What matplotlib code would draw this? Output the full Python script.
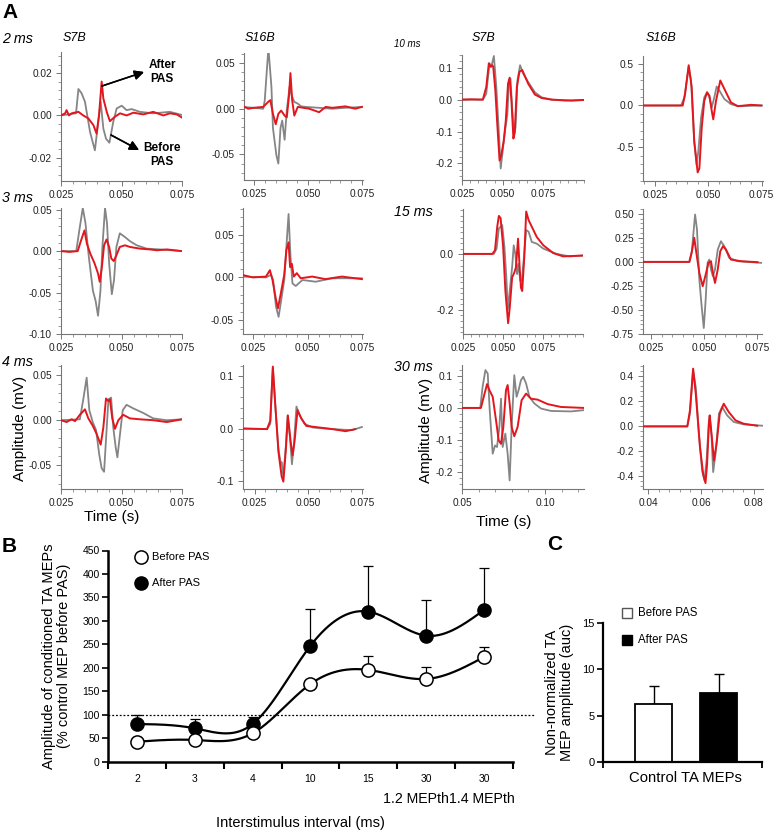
import numpy as np
import matplotlib.pyplot as plt
from matplotlib.ticker import FixedLocator, AutoMinorLocator, MultipleLocator, FormatStrFormatter

plt.rcParams['font.family'] = ['Liberation Sans', 'DejaVu Sans']
plt.rcParams['axes.unicode_minus'] = False

W, H = 782, 833
GRAY = '#858585'
RED = '#e4161d'

# ---- Panel A traces: (time in ms, amplitude in mV) ----
# 2 ms, S7B
s7b_2ms_before = [(25.0, 0.0), (31.2, 0.001), (32.2, 0.0125), (33.5, 0.0105), (34.9, 0.0065), (37.0, -0.0078),
                  (39.0, -0.0165), (40.4, -0.003), (41.4, 0.0065), (42.5, -0.0062), (43.6, -0.011), (45.0, -0.0129),
                  (46.6, -0.003), (48.0, 0.0033), (50.1, 0.0046), (52.1, 0.0025), (54.2, 0.003), (57.6, 0.0017),
                  (63.1, 0.001), (70.0, 0.0017), (75.0, 0.0002)]
s7b_2ms_after = [(25.0, 0.0), (26.7, 0.001), (27.3, 0.0025), (28.3, 0.0), (29.4, 0.001), (32.2, 0.0017), (34.2, 0.0),
                 (36.3, -0.0014), (38.4, -0.0046), (39.7, -0.0086), (40.7, 0.0), (41.8, 0.016), (42.5, 0.008),
                 (43.9, 0.0017), (45.2, -0.0027), (47.3, -0.0006), (49.4, 0.001), (52.1, 0.0), (54.9, 0.0013),
                 (59.0, 0.0005), (63.1, 0.0017), (67.3, 0.0), (70.0, 0.001), (72.8, 0.0005), (75.0, -0.001)]
# 2 ms, S16B
s16b_2ms_before = [(20.1, 0.002), (29.3, 0.0), (30.0, 0.009), (31.7, 0.0665), (33.1, 0.024), (33.8, -0.021),
                   (35.4, -0.051), (36.3, -0.060), (37.3, -0.021), (38.1, -0.013), (39.2, -0.034), (40.2, -0.002),
                   (41.5, 0.024), (42.4, 0.015), (43.7, 0.0075), (45.3, 0.0056), (46.8, 0.0026), (49.1, 0.002),
                   (55.2, 0.001), (61.3, 0.0), (67.4, 0.001), (75.0, 0.002)]
s16b_2ms_after = [(20.1, 0.0026), (22.4, 0.0), (24.7, 0.001), (29.3, 0.002), (31.6, 0.0075), (32.6, 0.0094),
                  (33.8, -0.0056), (35.1, -0.017), (36.3, -0.0056), (37.6, -0.002), (39.2, -0.0075), (40.2, -0.0094),
                  (41.2, 0.013), (41.9, 0.039), (42.7, 0.0094), (43.7, -0.0075), (45.3, 0.002), (50.6, 0.0),
                  (55.2, -0.0038), (58.2, 0.002), (61.3, 0.001), (67.4, 0.0026), (71.9, 0.0), (75.0, 0.002)]
# 10 ms, S7B
s7b_10ms_before = [(25.0, 0.0), (37.8, 0.0), (39.9, 0.018), (41.9, 0.114), (43.0, 0.103), (44.6, 0.137),
                   (46.1, 0.039), (47.5, -0.088), (48.8, -0.216), (50.2, -0.152), (51.7, -0.088), (52.9, -0.046),
                   (53.9, 0.061), (54.8, 0.066), (55.8, -0.024), (57.0, -0.110), (57.9, -0.088), (59.1, 0.061),
                   (60.7, 0.108), (62.6, 0.082), (65.7, 0.055), (69.8, 0.023), (74.0, 0.007), (80.2, 0.0),
                   (88.4, -0.003), (99.9, -0.001)]
s7b_10ms_after = [(25.0, 0.0), (30.6, 0.001), (37.8, 0.0), (39.9, 0.039), (41.5, 0.114), (42.6, 0.103),
                  (43.6, 0.108), (44.2, 0.103), (45.5, 0.029), (46.7, -0.078), (48.1, -0.191), (49.2, -0.173),
                  (50.6, -0.131), (51.9, -0.067), (53.3, 0.050), (54.3, 0.069), (55.4, -0.003), (56.6, -0.122),
                  (57.4, -0.104), (58.7, 0.039), (60.3, 0.087), (62.0, 0.093), (65.7, 0.050), (69.8, 0.016),
                  (74.0, 0.005), (80.2, 0.0), (92.6, -0.003), (99.9, -0.001)]
# 10 ms, S16B
s16b_10ms_before = [(19.5, 0.0), (37.2, 0.0), (38.8, 0.097), (40.8, 0.460), (41.9, 0.298), (43.4, -0.427),
                    (44.5, -0.710), (45.3, -0.548), (46.6, -0.145), (48.1, 0.097), (49.4, 0.157), (50.5, 0.097),
                    (51.6, -0.024), (52.8, 0.097), (53.9, 0.226), (55.2, 0.177), (57.5, 0.077), (60.6, 0.016),
                    (63.8, -0.008), (75.5, 0.0)]
s16b_10ms_after = [(19.5, 0.0), (38.0, 0.0), (39.1, 0.137), (40.8, 0.480), (42.2, 0.218), (43.4, -0.427),
                   (45.0, -0.798), (45.8, -0.750), (46.9, -0.266), (48.1, 0.056), (49.4, 0.157), (50.5, 0.117),
                   (51.6, -0.065), (52.3, -0.165), (53.6, 0.056), (55.6, 0.298), (57.5, 0.198), (60.6, 0.036),
                   (63.8, -0.008), (70.0, 0.008), (74.7, 0.0)]
# 3 ms, S7B
s7b_3ms_before = [(25.0, 0.0), (31.3, 0.0), (32.6, 0.0256), (34.0, 0.052), (35.1, 0.034), (36.5, -0.007),
                  (38.2, -0.048), (39.3, -0.060), (40.3, -0.078), (41.3, -0.048), (42.1, 0.005), (43.2, 0.052),
                  (44.0, 0.034), (44.9, -0.015), (46.0, -0.052), (46.9, -0.035), (47.9, 0.005), (49.3, 0.0215),
                  (51.4, 0.017), (53.5, 0.012), (56.3, 0.007), (60.4, 0.003), (66.0, 0.002), (75.0, 0.0)]
s7b_3ms_after = [(25.0, 0.0), (28.5, -0.001), (31.9, 0.0), (33.3, 0.013), (34.7, 0.025), (35.7, 0.009),
                 (37.1, -0.003), (38.9, -0.015), (40.3, -0.027), (41.0, -0.037), (41.9, -0.019), (42.8, 0.007),
                 (43.8, 0.014), (44.9, 0.005), (45.8, -0.009), (46.8, -0.012), (47.9, -0.005), (49.3, 0.005),
                 (51.4, 0.007), (53.5, 0.005), (57.6, 0.003), (61.8, 0.002), (64.6, 0.001), (68.8, 0.002),
                 (75.0, 0.0)]
# 3 ms, S16B
s16b_3ms_before = [(19.8, 0.001), (30.8, 0.0), (33.1, 0.003), (34.1, -0.003), (35.4, -0.034), (36.6, -0.046),
                   (37.6, -0.030), (39.2, -0.003), (40.2, 0.036), (41.2, 0.074), (42.1, 0.024), (43.0, -0.007),
                   (44.5, -0.010), (47.6, -0.003), (53.7, -0.005), (61.3, -0.001), (75.0, -0.001)]
s16b_3ms_after = [(19.8, 0.003), (24.7, 0.0), (30.8, 0.001), (32.6, 0.0085), (33.8, -0.003), (35.4, -0.026),
                  (36.3, -0.036), (37.6, -0.019), (39.2, 0.003), (40.2, 0.032), (41.2, 0.041), (41.9, 0.012),
                  (42.7, 0.016), (43.6, 0.001), (45.0, 0.005), (46.8, -0.001), (52.1, 0.001), (58.2, -0.002),
                  (65.8, 0.001), (75.0, -0.002)]
# 15 ms, S7B
s7b_15ms_before = [(25.0, 0.002), (44.3, 0.002), (46.0, 0.021), (47.4, 0.094), (48.5, 0.100), (49.5, 0.106),
                   (50.9, 0.027), (52.2, -0.095), (53.0, -0.199), (54.2, -0.132), (55.7, -0.046), (56.7, 0.033),
                   (57.7, 0.002), (58.8, -0.071), (59.6, -0.034), (60.8, -0.095), (61.8, -0.095), (62.9, -0.022),
                   (64.5, 0.088), (66.0, 0.082), (68.0, 0.045), (71.1, 0.039), (75.2, 0.021), (83.4, 0.002),
                   (91.7, -0.007), (99.5, -0.004)]
s7b_15ms_after = [(25.0, 0.002), (43.3, 0.002), (45.0, 0.015), (46.4, 0.100), (47.4, 0.139), (48.5, 0.131),
                  (50.1, 0.027), (51.5, -0.132), (53.2, -0.248), (54.2, -0.193), (55.7, -0.083), (57.1, -0.065),
                  (58.1, -0.046), (59.4, 0.057), (60.4, -0.046), (61.2, -0.120), (62.0, -0.132), (63.3, -0.010),
                  (64.5, 0.155), (66.0, 0.124), (68.0, 0.100), (71.1, 0.063), (75.2, 0.033), (81.4, 0.005),
                  (87.6, -0.007), (99.5, -0.004)]
# 15 ms, S16B
s16b_15ms_before = [(21.4, 0.0), (43.1, 0.0), (44.2, 0.094), (45.8, 0.493), (46.7, 0.337), (47.8, -0.184),
                    (48.9, -0.462), (49.9, -0.688), (50.8, -0.392), (51.7, -0.010), (52.5, 0.024), (53.3, -0.080),
                    (54.2, -0.149), (55.2, -0.080), (56.5, 0.128), (58.0, 0.215), (59.6, 0.163), (61.9, 0.042),
                    (65.9, 0.007), (77.0, -0.010)]
s16b_15ms_after = [(21.4, 0.0), (43.1, 0.0), (44.3, 0.111), (45.4, 0.250), (46.4, 0.094), (47.8, -0.115),
                   (49.4, -0.253), (51.0, -0.115), (52.1, -0.010), (53.3, 0.007), (54.2, -0.115), (55.2, -0.219),
                   (56.5, -0.080), (57.7, 0.111), (59.0, 0.163), (60.4, 0.128), (62.7, 0.024), (67.5, 0.007),
                   (75.3, -0.003)]
# 4 ms, S7B
s7b_4ms_before = [(25.0, 0.0), (32.8, 0.001), (34.2, 0.023), (35.6, 0.047), (36.7, 0.011), (38.1, -0.002),
                  (39.5, -0.011), (40.8, -0.038), (41.8, -0.053), (42.8, -0.057), (43.9, -0.008), (44.6, 0.023),
                  (45.7, 0.025), (46.6, -0.008), (47.6, -0.030), (48.3, -0.041), (49.4, -0.015), (50.5, 0.011),
                  (52.1, 0.017), (54.9, 0.013), (59.0, 0.008), (63.1, 0.002), (68.7, 0.0), (75.0, 0.001)]
s7b_4ms_after = [(25.0, 0.0), (27.3, -0.002), (29.4, 0.001), (30.8, -0.001), (32.8, 0.006), (34.9, 0.012),
                 (36.3, 0.002), (38.1, -0.006), (39.7, -0.015), (41.4, -0.027), (42.5, -0.008), (43.6, 0.024),
                 (44.6, 0.021), (45.2, 0.023), (46.2, 0.002), (47.3, -0.0095), (48.7, 0.0), (50.7, 0.006),
                 (53.5, 0.002), (57.6, 0.001), (63.1, 0.0), (68.7, -0.002), (75.0, 0.001)]
# 4 ms, S16B
s16b_4ms_before = [(19.8, 0.0), (30.8, -0.001), (32.3, 0.009), (33.5, 0.115), (34.8, 0.035), (36.1, -0.038),
                   (37.2, -0.068), (37.6, -0.064), (38.4, -0.091), (39.6, -0.031), (40.4, 0.025), (41.5, -0.018),
                   (42.4, -0.068), (43.3, -0.031), (44.5, 0.042), (46.0, 0.025), (48.3, 0.009), (52.1, 0.002),
                   (61.3, -0.001), (70.4, -0.003), (75.0, 0.003)]
s16b_4ms_after = [(19.8, 0.0), (30.8, -0.001), (32.3, 0.015), (33.5, 0.118), (34.8, 0.035), (36.1, -0.044),
                  (37.6, -0.091), (38.4, -0.101), (39.6, -0.038), (40.5, 0.025), (41.8, -0.025), (42.7, -0.051),
                  (43.6, -0.025), (45.0, 0.035), (46.8, 0.019), (49.1, 0.005), (55.2, 0.002), (61.3, -0.001),
                  (67.4, -0.005), (71.9, -0.001)]
# 30 ms, S7B
s7b_30ms_before = [(50.0, 0.0), (61.0, 0.0), (62.4, 0.066), (64.1, 0.119), (65.5, 0.108), (66.7, -0.007),
                   (68.5, -0.144), (69.9, -0.118), (71.1, -0.123), (72.5, -0.060), (73.5, 0.029), (74.5, -0.123),
                   (76.1, -0.081), (77.5, -0.144), (78.7, -0.228), (79.9, -0.060), (81.5, 0.103), (82.9, 0.035),
                   (84.1, 0.056), (85.5, 0.087), (86.9, 0.098), (88.6, 0.077), (90.6, 0.035), (93.6, 0.014),
                   (97.6, -0.002), (103.6, -0.0095), (115.7, -0.011), (123.3, -0.007)]
s7b_30ms_after = [(50.0, 0.0), (61.4, 0.0), (63.1, 0.035), (65.1, 0.075), (66.5, 0.056), (68.5, 0.035),
                  (70.5, -0.039), (72.1, -0.102), (73.5, -0.113), (74.9, -0.060), (76.5, 0.056), (77.5, 0.072),
                  (78.7, 0.014), (79.9, -0.060), (81.5, -0.089), (83.5, -0.060), (85.9, 0.024), (88.6, 0.045),
                  (91.6, 0.029), (95.6, 0.026), (101.6, 0.012), (109.6, 0.003), (123.3, 0.0)]
# 30 ms, S16B
s16b_30ms_before = [(38.0, 0.0), (54.8, 0.0), (55.8, 0.101), (57.0, 0.448), (58.0, 0.315), (59.2, -0.059),
                    (60.4, -0.352), (61.3, -0.432), (62.1, -0.272), (63.0, 0.048), (63.3, 0.080), (64.0, -0.085),
                    (64.6, -0.365), (65.5, -0.219), (66.8, 0.101), (68.0, 0.155), (69.9, 0.088), (72.4, 0.035),
                    (76.2, 0.016), (83.4, 0.005)]
s16b_30ms_after = [(38.0, 0.0), (54.8, 0.0), (55.8, 0.128), (57.0, 0.461), (58.0, 0.261), (59.6, -0.165),
                   (60.8, -0.379), (61.7, -0.453), (62.3, -0.299), (63.0, 0.021), (63.3, 0.088), (64.1, -0.085),
                   (64.9, -0.272), (65.9, -0.139), (67.1, 0.101), (68.6, 0.181), (70.5, 0.115), (73.1, 0.048),
                   (76.2, 0.021), (81.3, 0.005)]

# ---- Panel B ----
isi_labels = ['2', '3', '4', '10', '15', '30', '30']
before_pas = [42.6, 46.3, 60.5, 165.6, 195.5, 176.3, 223.2]
before_se = [3, 3, 5, 8, 30, 26, 22]
after_pas = [80.3, 71.1, 80.3, 247.2, 319.7, 268.5, 323.3]
after_se = [19, 19, 16, 78, 97, 76, 90]

# ---- Panel C ----
control_means = [6.3, 7.45]
control_se = [1.9, 2.05]


def rect(l, r, t, b):
    return [l / W, 1 - b / H, (r - l) / W, (b - t) / H]


def fx(x):
    return x / W


def fy(y):
    return 1 - y / H


def spline(x, y, xs):
    # natural cubic spline, for the smooth line through the means
    x = np.asarray(x, float)
    y = np.asarray(y, float)
    n = len(x)
    h = np.diff(x)
    A = np.zeros((n, n))
    rhs = np.zeros(n)
    A[0, 0] = A[-1, -1] = 1
    for i in range(1, n - 1):
        A[i, i - 1] = h[i - 1]
        A[i, i] = 2 * (h[i - 1] + h[i])
        A[i, i + 1] = h[i]
        rhs[i] = 3 * ((y[i + 1] - y[i]) / h[i] - (y[i] - y[i - 1]) / h[i - 1])
    c = np.linalg.solve(A, rhs)
    b = (y[1:] - y[:-1]) / h - h * (2 * c[:-1] + c[1:]) / 3
    d = (c[1:] - c[:-1]) / (3 * h)
    idx = np.clip(np.searchsorted(x, xs) - 1, 0, n - 2)
    dx = xs - x[idx]
    return y[idx] + b[idx] * dx + c[idx] * dx ** 2 + d[idx] * dx ** 3


fig = plt.figure(figsize=(W / 100, H / 100), dpi=100)

x3 = [0.025, 0.05, 0.075]
panels = [
    # rect px, xlim (ms), ylim, x ticks, x fmt, y step, y fmt, before, after
    ((61, 182, 52, 181), (25, 75), (-0.031, 0.030), x3, '%.3f', 0.02, '%.2f', s7b_2ms_before, s7b_2ms_after),
    ((244, 363, 53, 180), (20.4, 75.5), (-0.078, 0.061), x3, '%.3f', 0.05, '%.2f', s16b_2ms_before, s16b_2ms_after),
    ((462, 584, 55, 180), (25, 100), (-0.252, 0.14), x3, '%.3f', 0.1, '%.1f', s7b_10ms_before, s7b_10ms_after),
    ((643, 763, 56, 181), (19.4, 75.6), (-0.90, 0.59), x3, '%.3f', 0.5, '%.1f', s16b_10ms_before, s16b_10ms_after),
    ((61, 182, 208, 334), (25, 75), (-0.10, 0.052), x3, '%.3f', 0.05, '%.2f', s7b_3ms_before, s7b_3ms_after),
    ((243, 363, 208, 334), (20.2, 75.5), (-0.066, 0.081), x3, '%.3f', 0.05, '%.2f', s16b_3ms_before, s16b_3ms_after),
    ((463, 583, 209, 334), (25, 100), (-0.287, 0.164), x3, '%.3f', 0.2, '%.1f', s7b_15ms_before, s7b_15ms_after),
    ((643, 762, 209, 334), (21.2, 77.4), (-0.75, 0.55), x3, '%.3f', 0.25, '%.2f', s16b_15ms_before, s16b_15ms_after),
    ((61, 182, 365, 489), (25, 75), (-0.076, 0.061), x3, '%.3f', 0.05, '%.2f', s7b_4ms_before, s7b_4ms_after),
    ((243, 363, 365, 489), (19.6, 75.5), (-0.115, 0.121), x3, '%.3f', 0.1, '%.1f', s16b_4ms_before, s16b_4ms_after),
    ((462, 584, 365, 489), (50, 123.5), (-0.255, 0.135), [0.05, 0.10], '%.2f', 0.1, '%.1f', s7b_30ms_before, s7b_30ms_after),
    ((643, 763, 365, 489), (38, 83.5), (-0.50, 0.49), [0.04, 0.06, 0.08], '%.2f', 0.2, '%.1f', s16b_30ms_before, s16b_30ms_after),
]

trace_axes = []
for i, (r, xl, yl, xt, xf, ys, yf, bef, aft) in enumerate(panels):
    ax = fig.add_axes(rect(*r))
    tb, vb = zip(*bef)
    ta, va = zip(*aft)
    ax.plot(np.array(tb) / 1000, vb, color=GRAY, lw=1.3, zorder=2)
    ax.plot(np.array(ta) / 1000, va, color=RED, lw=1.4, zorder=3)
    ax.set_xlim(xl[0] / 1000, xl[1] / 1000)
    ax.set_ylim(*yl)
    ax.xaxis.set_major_locator(FixedLocator(xt))
    ax.xaxis.set_major_formatter(FormatStrFormatter(xf))
    ax.xaxis.set_minor_locator(AutoMinorLocator(5))
    ax.yaxis.set_major_locator(MultipleLocator(ys))
    ax.yaxis.set_major_formatter(FormatStrFormatter(yf))
    ax.yaxis.set_minor_locator(AutoMinorLocator(10 if ys == 0.2 and i == 6 else 5))
    for s in ['top', 'right']:
        ax.spines[s].set_visible(False)
    for s in ['left', 'bottom']:
        ax.spines[s].set_color('#777777')
        ax.spines[s].set_linewidth(0.8)
    ax.tick_params(which='major', length=3.5, width=0.7, color='#777777', labelsize=7.3,
                   labelcolor='#222222', pad=3)
    ax.tick_params(which='minor', length=2, width=0.6, color='#888888')
    ax.patch.set_alpha(0)
    trace_axes.append(ax)

# A labels
fig.text(fx(2), fy(13), 'A', fontsize=15, fontweight='bold', va='center', ha='left')
for txt, x, y in [('2 ms', 2, 39), ('3 ms', 2, 198), ('4 ms', 2, 362), ('15 ms', 394, 212), ('30 ms', 394, 367)]:
    fig.text(fx(x), fy(y), txt, fontsize=10.3, style='italic', va='center', ha='left')
fig.text(fx(394), fy(44), '10 ms', fontsize=7, style='italic', va='center', ha='left')
for txt, x in [('S7B', 75), ('S16B', 260), ('S7B', 484), ('S16B', 661)]:
    fig.text(fx(x), fy(38), txt, fontsize=9, style='italic', va='center', ha='center')

for x, y in [(20, 428), (426, 430)]:
    fig.text(fx(x), fy(y), 'Amplitude (mV)', fontsize=11, rotation=90, va='center', ha='center')
for x, y in [(112, 517), (504, 522)]:
    fig.text(fx(x), fy(y), 'Time (s)', fontsize=11, va='center', ha='center')

fig.text(fx(162), fy(72), 'After\nPAS', fontsize=8.5, fontweight='bold', va='center', ha='center', linespacing=1.15)
fig.text(fx(162), fy(155), 'Before\nPAS', fontsize=8.5, fontweight='bold', va='center', ha='center', linespacing=1.15)
arrow = dict(arrowstyle='-|>', color='black', lw=1.1, mutation_scale=14, shrinkA=0, shrinkB=0)
fig.add_artist(plt.annotate('', xy=(fx(144), fy(72)), xytext=(fx(102), fy(86)),
                            xycoords='figure fraction', textcoords='figure fraction', arrowprops=arrow))
fig.add_artist(plt.annotate('', xy=(fx(139), fy(150)), xytext=(fx(111), fy(135)),
                            xycoords='figure fraction', textcoords='figure fraction', arrowprops=arrow))

# ---- Panel B ----
axB = fig.add_axes(rect(108, 513, 550.5, 761.7))
pos = np.arange(len(isi_labels)) + 0.5
xs = np.linspace(pos[0], pos[-1], 400)
axB.plot(xs, spline(pos, after_pas, xs), color='black', lw=1.6, zorder=2)
axB.plot(xs, spline(pos, before_pas, xs), color='black', lw=1.6, zorder=2)
axB.errorbar(pos, after_pas, yerr=[np.zeros(len(pos)), after_se], fmt='none', ecolor='black',
             elinewidth=0.9, capsize=3.5, capthick=0.9, zorder=1)
axB.errorbar(pos, before_pas, yerr=[np.zeros(len(pos)), before_se], fmt='none', ecolor='black',
             elinewidth=0.9, capsize=3.5, capthick=0.9, zorder=1)
axB.plot(pos, after_pas, 'o', color='black', ms=9.5, zorder=4)
axB.plot(pos, before_pas, 'o', mfc='white', mec='black', mew=1.1, ms=9.5, zorder=5)
axB.plot([0, 7.38], [100, 100], ls=(0, (1.5, 1.5)), color='black', lw=0.9, clip_on=False, zorder=1)
axB.set_xlim(0, 7)
axB.set_ylim(0, 450)
axB.set_yticks(np.arange(0, 451, 50))
axB.set_xticks(np.arange(0, 8))
axB.set_xticklabels([])
axB.set_xticks(pos, minor=True)
axB.set_xticklabels(isi_labels, minor=True)
axB.tick_params(axis='x', which='minor', length=0, pad=9, labelsize=7.5)
axB.tick_params(axis='x', which='major', length=5, width=1.5)
axB.tick_params(axis='y', length=4, width=1.2, labelsize=7.5, pad=2)
for s in ['top', 'right']:
    axB.spines[s].set_visible(False)
for s in ['left', 'bottom']:
    axB.spines[s].set_linewidth(1.8)
axB.set_ylabel('Amplitude of conditioned TA MEPs\n(% control MEP before PAS)', fontsize=10.5,
               linespacing=1.15, labelpad=8)
axB.plot([0.57], [436], 'o', mfc='white', mec='black', mew=1.1, ms=9.5, clip_on=False)
axB.plot([0.57], [381], 'o', color='black', ms=9.5, clip_on=False)
axB.text(0.76, 436, 'Before PAS', fontsize=8, va='center', ha='left')
axB.text(0.76, 381, 'After PAS', fontsize=8, va='center', ha='left')
fig.text(fx(515), fy(799), '1.2 MEPth1.4 MEPth', fontsize=10.2, va='center', ha='right')
fig.text(fx(300), fy(823), 'Interstimulus interval (ms)', fontsize=10.5, va='center', ha='center')
fig.text(fx(2), fy(547), 'B', fontsize=15, fontweight='bold', va='center', ha='left')

# ---- Panel C ----
axC = fig.add_axes(rect(603, 762, 623, 762))
axC.bar([0, 1], control_means, width=0.56, color=['white', 'black'], edgecolor='black', lw=1.3, zorder=2)
axC.errorbar([0, 1], control_means, yerr=[[0, 0], control_se], fmt='none', ecolor='black',
             elinewidth=1.0, capsize=3.5, capthick=1.0, zorder=1)
axC.set_xlim(-0.777, 1.669)
axC.set_ylim(0, 15)
axC.set_yticks([0, 5, 10, 15])
axC.set_xticks([-0.777, 1.669])
axC.set_xticklabels([])
axC.tick_params(axis='x', length=4, width=1.3)
axC.tick_params(axis='y', length=4, width=1.2, labelsize=8, pad=2)
for s in ['top', 'right']:
    axC.spines[s].set_visible(False)
for s in ['left', 'bottom']:
    axC.spines[s].set_linewidth(1.6)
axC.set_ylabel('Non-normalized TA\nMEP amplitude (auc)', fontsize=10.5, linespacing=1.05, labelpad=6)
axC.plot([-0.408], [16.08], 's', mfc='white', mec='#555555', mew=1.0, ms=6.5, clip_on=False)
axC.plot([-0.408], [13.17], 's', color='black', ms=6.5, clip_on=False)
axC.text(-0.238, 16.08, 'Before PAS', fontsize=8.3, va='center', ha='left')
axC.text(-0.238, 13.17, 'After PAS', fontsize=8.3, va='center', ha='left')
fig.text(fx(685), fy(778), 'Control TA MEPs', fontsize=10.7, va='center', ha='center')
fig.text(fx(547), fy(545), 'C', fontsize=15, fontweight='bold', va='center', ha='left')

fig.savefig('out.png', dpi=100)
